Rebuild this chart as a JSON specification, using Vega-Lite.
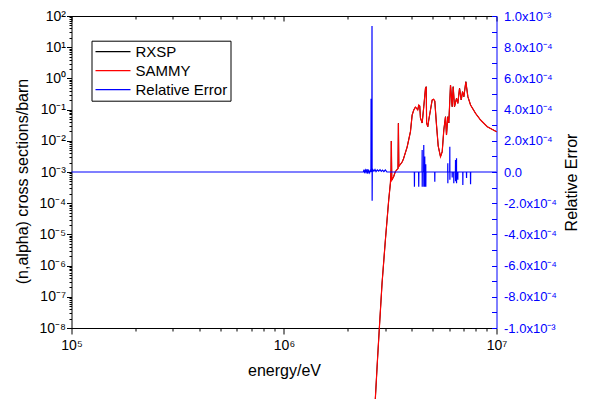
{
  "$schema": "https://vega.github.io/schema/vega-lite/v6.json",
  "width": 425,
  "height": 312,
  "autosize": {"type": "none"},
  "padding": {"left": 71.5, "top": 16, "right": 100.5, "bottom": 71},
  "config": {
    "font": "Liberation Sans",
    "view": {"stroke": null},
    "axis": {
      "grid": false,
      "labelFont": "Liberation Sans",
      "titleFont": "Liberation Sans",
      "labelColor": "#000000",
      "titleColor": "#000000",
      "tickColor": "#000000",
      "domainColor": "#000000",
      "labelFontSize": 14,
      "titleFontSize": 16,
      "titleFontWeight": "normal",
      "labelFlush": false,
      "labelOverlap": false
    },
    "legend": {
      "labelFont": "Liberation Sans",
      "labelFontSize": 15,
      "labelColor": "#000000",
      "symbolType": "stroke",
      "symbolSize": 1225,
      "symbolStrokeWidth": 1.2,
      "strokeColor": "#000000",
      "padding": 3,
      "rowPadding": 3,
      "labelOffset": 4,
      "clipHeight": 16
    }
  },
  "datasets": {
    "xs": [
      {"E": 2660000, "s": 1.1e-11},
      {"E": 2690000, "s": 5.3e-11},
      {"E": 2750000, "s": 8.1e-10},
      {"E": 2810000, "s": 1e-8},
      {"E": 2894000, "s": 2.77e-7},
      {"E": 3000000, "s": 6.6e-6},
      {"E": 3110000, "s": 1.27e-4},
      {"E": 3168000, "s": 4.44e-4},
      {"E": 3190000, "s": 1.16e-3},
      {"E": 3200000, "s": 9.86e-3},
      {"E": 3215000, "s": 5.5e-4},
      {"E": 3280000, "s": 7.06e-4},
      {"E": 3340000, "s": 1.02e-3},
      {"E": 3440000, "s": 1.3e-3},
      {"E": 3455000, "s": 3.64e-2},
      {"E": 3470000, "s": 1.5e-3},
      {"E": 3597000, "s": 2.09e-3},
      {"E": 3648000, "s": 2.61e-3},
      {"E": 3797000, "s": 6.3e-3},
      {"E": 3936000, "s": 1.96e-2},
      {"E": 4009000, "s": 0.067},
      {"E": 4080000, "s": 0.097},
      {"E": 4155000, "s": 0.121},
      {"E": 4232000, "s": 0.104},
      {"E": 4260000, "s": 0.097},
      {"E": 4306000, "s": 0.14},
      {"E": 4353000, "s": 0.13},
      {"E": 4387000, "s": 0.0538},
      {"E": 4469000, "s": 0.0373},
      {"E": 4547000, "s": 0.124},
      {"E": 4632000, "s": 0.48},
      {"E": 4670000, "s": 0.54},
      {"E": 4690000, "s": 0.0373},
      {"E": 4750000, "s": 0.0283},
      {"E": 4800000, "s": 0.0464},
      {"E": 4890000, "s": 0.097},
      {"E": 4980000, "s": 0.203},
      {"E": 5060000, "s": 0.214},
      {"E": 5124000, "s": 0.189},
      {"E": 5220000, "s": 0.032},
      {"E": 5317000, "s": 6.8e-3},
      {"E": 5451000, "s": 3.09e-3},
      {"E": 5553000, "s": 4.48e-3},
      {"E": 5650000, "s": 0.0222},
      {"E": 5754000, "s": 0.0592},
      {"E": 5817000, "s": 0.0153},
      {"E": 5900000, "s": 0.0592},
      {"E": 5964000, "s": 0.0373},
      {"E": 6075000, "s": 0.614},
      {"E": 6188000, "s": 0.124},
      {"E": 6256000, "s": 0.542},
      {"E": 6344000, "s": 0.124},
      {"E": 6484000, "s": 0.23},
      {"E": 6577000, "s": 0.159},
      {"E": 6700000, "s": 0.482},
      {"E": 6824000, "s": 0.203},
      {"E": 6922000, "s": 0.375},
      {"E": 7020000, "s": 0.259},
      {"E": 7174000, "s": 0.783},
      {"E": 7333000, "s": 0.259},
      {"E": 7550000, "s": 0.14},
      {"E": 7970000, "s": 0.076},
      {"E": 8414000, "s": 0.0464},
      {"E": 9050000, "s": 0.0283},
      {"E": 10000000, "s": 0.0196}
    ],
    "re": [
      {"E": 100000, "r": 0},
      {"E": 2363000, "r": 0},
      {"E": 2380000, "r": 1.5e-5},
      {"E": 2400000, "r": -8e-6},
      {"E": 2420000, "r": 1.2e-5},
      {"E": 2440000, "r": 0},
      {"E": 2460000, "r": 1.8e-5},
      {"E": 2480000, "r": -1e-5},
      {"E": 2500000, "r": 1e-5},
      {"E": 2530000, "r": -5e-6},
      {"E": 2555000, "r": 1.5e-5},
      {"E": 2565000, "r": 0},
      {"E": 2569000, "r": 4.7e-4},
      {"E": 2573000, "r": 0},
      {"E": 2590000, "r": 1e-5},
      {"E": 2595000, "r": 9.36e-4},
      {"E": 2599000, "r": -1.84e-4},
      {"E": 2603000, "r": 0},
      {"E": 2620000, "r": 1.5e-5},
      {"E": 2650000, "r": 5e-6},
      {"E": 2680000, "r": 1.6e-5},
      {"E": 2710000, "r": 3e-6},
      {"E": 2750000, "r": 1.4e-5},
      {"E": 2790000, "r": 6e-6},
      {"E": 2830000, "r": 1.5e-5},
      {"E": 2870000, "r": 4e-6},
      {"E": 2910000, "r": 1.2e-5},
      {"E": 2950000, "r": 3e-6},
      {"E": 3000000, "r": 1.3e-5},
      {"E": 3050000, "r": 0},
      {"E": 4105000, "r": 0},
      {"E": 4110000, "r": -9.4e-5},
      {"E": 4115000, "r": 0},
      {"E": 4300000, "r": 0},
      {"E": 4306000, "r": -9.4e-5},
      {"E": 4312000, "r": 0},
      {"E": 4462000, "r": 0},
      {"E": 4469000, "r": 1.41e-4},
      {"E": 4472000, "r": -9.4e-5},
      {"E": 4476000, "r": 0},
      {"E": 4540000, "r": 0},
      {"E": 4547000, "r": 1.73e-4},
      {"E": 4550000, "r": -9.4e-5},
      {"E": 4555000, "r": 0},
      {"E": 4592000, "r": 0},
      {"E": 4597000, "r": 1.0e-4},
      {"E": 4600000, "r": -9.4e-5},
      {"E": 4605000, "r": 0},
      {"E": 4642000, "r": 0},
      {"E": 4647000, "r": 5e-5},
      {"E": 4650000, "r": -9.4e-5},
      {"E": 4655000, "r": 0},
      {"E": 5118000, "r": 0},
      {"E": 5124000, "r": -6.2e-5},
      {"E": 5130000, "r": 0},
      {"E": 5893000, "r": 0},
      {"E": 5900000, "r": 5.6e-5},
      {"E": 5903000, "r": -7.2e-5},
      {"E": 5908000, "r": 0},
      {"E": 6024000, "r": 0},
      {"E": 6030000, "r": 1.62e-4},
      {"E": 6034000, "r": -5e-5},
      {"E": 6040000, "r": 0},
      {"E": 6182000, "r": 0},
      {"E": 6188000, "r": -3.5e-5},
      {"E": 6194000, "r": 0},
      {"E": 6290000, "r": 0},
      {"E": 6297000, "r": -7.2e-5},
      {"E": 6303000, "r": 0},
      {"E": 6408000, "r": 0},
      {"E": 6414000, "r": 7.7e-5},
      {"E": 6417000, "r": -6e-5},
      {"E": 6422000, "r": 0},
      {"E": 6478000, "r": 0},
      {"E": 6484000, "r": 8.8e-5},
      {"E": 6487000, "r": -7.2e-5},
      {"E": 6492000, "r": 0},
      {"E": 6570000, "r": 0},
      {"E": 6577000, "r": -5e-5},
      {"E": 6583000, "r": 0},
      {"E": 6937000, "r": 0},
      {"E": 6944000, "r": -8.3e-5},
      {"E": 6950000, "r": 0},
      {"E": 7220000, "r": 0},
      {"E": 7228000, "r": -3.8e-5},
      {"E": 7235000, "r": 0},
      {"E": 7540000, "r": 0},
      {"E": 7550000, "r": -7.9e-5},
      {"E": 7560000, "r": 0},
      {"E": 10000000, "r": 0}
    ],
    "dummy": [{"a": 1000000, "b": 1, "c": 0}]
  },
  "resolve": {"scale": {"x": "independent", "y": "independent"}},
  "layer": [
    {
      "data": {"name": "dummy"},
      "mark": {"type": "point", "opacity": 0},
      "encoding": {
        "x": {"field": "a", "type": "quantitative", "scale": {"type": "log", "domain": [100000, 10000000], "nice": false},
          "axis": {"orient": "bottom", "values": [200000, 300000, 400000, 500000, 600000, 700000, 800000, 900000, 2000000, 3000000, 4000000, 5000000, 6000000, 7000000, 8000000, 9000000], "labels": false, "domain": false, "tickSize": 3, "title": null}},
        "y": {"field": "b", "type": "quantitative", "scale": {"type": "log", "domain": [1e-8, 100], "nice": false},
          "axis": {"orient": "left", "values": [2e-8,3e-8,4e-8,5e-8,6e-8,7e-8,8e-8,9e-8,2e-7,3e-7,4e-7,5e-7,6e-7,7e-7,8e-7,9e-7,2e-6,3e-6,4e-6,5e-6,6e-6,7e-6,8e-6,9e-6,2e-5,3e-5,4e-5,5e-5,6e-5,7e-5,8e-5,9e-5,2e-4,3e-4,4e-4,5e-4,6e-4,7e-4,8e-4,9e-4,2e-3,3e-3,4e-3,5e-3,6e-3,7e-3,8e-3,9e-3,0.02,0.03,0.04,0.05,0.06,0.07,0.08,0.09,0.2,0.3,0.4,0.5,0.6,0.7,0.8,0.9,2,3,4,5,6,7,8,9,20,30,40,50,60,70,80,90], "labels": false, "domain": false, "tickSize": 2.5, "title": null}}
      }
    },
    {
      "data": {"name": "dummy"},
      "mark": {"type": "point", "opacity": 0},
      "encoding": {
        "x": {"field": "a", "type": "quantitative", "scale": {"type": "log", "domain": [100000, 10000000], "nice": false},
          "axis": {"orient": "top", "values": [100000, 1000000, 10000000], "labels": false, "domain": true, "tickSize": -5, "title": null}},
        "y": {"field": "c", "type": "quantitative", "scale": {"domain": [-0.001, 0.001], "nice": false, "zero": false},
          "axis": {"orient": "right", "values": [-0.001,-0.0009,-0.0008,-0.0007,-0.0006,-0.0005,-0.0004,-0.0003,-0.0002,-0.0001,0,0.0001,0.0002,0.0003,0.0004,0.0005,0.0006,0.0007,0.0008,0.0009,0.001], "labels": false, "domain": true, "domainColor": "#0000ff", "tickColor": "#0000ff", "tickSize": -5, "title": null}}
      }
    },
    {
      "data": {"name": "dummy"},
      "mark": {"type": "point", "opacity": 0},
      "encoding": {
        "x": {"field": "a", "type": "quantitative", "scale": {"type": "log", "domain": [100000, 10000000], "nice": false},
          "axis": {"orient": "top", "values": [200000, 300000, 400000, 500000, 600000, 700000, 800000, 900000, 2000000, 3000000, 4000000, 5000000, 6000000, 7000000, 8000000, 9000000], "labels": false, "domain": false, "tickSize": -3, "title": null}},
        "y": {"field": "b", "type": "quantitative", "scale": {"type": "log", "domain": [1e-8, 100], "nice": false}, "axis": null}
      }
    },
    {
      "data": {"name": "xs"},
      "mark": {"type": "line", "strokeWidth": 1},
      "encoding": {
        "x": {"field": "E", "type": "quantitative", "scale": {"type": "log", "domain": [100000, 10000000], "nice": false},
          "axis": {"orient": "bottom", "values": [100000, 1000000, 10000000], "tickSize": 6, "labelFontSize": 14, "labelPadding": 4,
            "labelExpr": "'10' + (round(log(datum.value)/LN10) < 0 ? '⁻' : '') + substring('⁰¹²³⁴⁵⁶⁷⁸⁹', abs(round(log(datum.value)/LN10)), abs(round(log(datum.value)/LN10)) + 1)",
            "title": "energy/eV", "titlePadding": 10}},
        "y": {"field": "s", "type": "quantitative", "scale": {"type": "log", "domain": [1e-8, 100], "nice": false},
          "axis": {"orient": "left", "values": [1e-8,1e-7,1e-6,1e-5,1e-4,1e-3,0.01,0.1,1,10,100], "tickSize": 5, "labelPadding": 1,
            "labelExpr": "'10' + (round(log(datum.value)/LN10) < 0 ? '⁻' : '') + substring('⁰¹²³⁴⁵⁶⁷⁸⁹', abs(round(log(datum.value)/LN10)), abs(round(log(datum.value)/LN10)) + 1)",
            "title": "(n,alpha) cross sections/barn", "titlePadding": 8, "titleY": 165}},
        "color": {"datum": "RXSP", "type": "nominal",
          "scale": {"domain": ["RXSP", "SAMMY", "Relative Error"], "range": ["#000000", "#ff0000", "#0000ff"]},
          "legend": {"orient": "none", "legendX": 20, "legendY": 24.7, "title": null}}
      }
    },
    {
      "data": {"name": "xs"},
      "mark": {"type": "line", "strokeWidth": 1.2},
      "encoding": {
        "x": {"field": "E", "type": "quantitative", "scale": {"type": "log", "domain": [100000, 10000000], "nice": false}, "axis": null},
        "y": {"field": "s", "type": "quantitative", "scale": {"type": "log", "domain": [1e-8, 100], "nice": false}, "axis": null},
        "color": {"datum": "SAMMY", "type": "nominal"}
      }
    },
    {
      "data": {"name": "re"},
      "mark": {"type": "line", "strokeWidth": 1.2},
      "encoding": {
        "x": {"field": "E", "type": "quantitative", "scale": {"type": "log", "domain": [100000, 10000000], "nice": false}, "axis": null},
        "y": {"field": "r", "type": "quantitative", "scale": {"domain": [-0.001, 0.001], "nice": false, "zero": false},
          "axis": {"orient": "right", "values": [-0.001,-0.0008,-0.0006,-0.0004,-0.0002,0,0.0002,0.0004,0.0006,0.0008,0.001], "ticks": false, "domain": false,
            "labelColor": "#0000ff", "labelFontSize": 13, "labelPadding": 7,
            "labelExpr": "datum.value == 0 ? '0.0' : ((datum.value < 0 ? '-' : '') + format(abs(datum.value) / pow(10, floor(log(abs(datum.value))/LN10 + 0.000001)), '.1f') + 'x10⁻' + substring('⁰¹²³⁴⁵⁶⁷⁸⁹', -floor(log(abs(datum.value))/LN10 + 0.000001), -floor(log(abs(datum.value))/LN10 + 0.000001) + 1))",
            "title": "Relative Error", "titleAngle": 270, "titlePadding": 23, "titleY": 166}},
        "color": {"datum": "Relative Error", "type": "nominal"}
      }
    }
  ]
}
